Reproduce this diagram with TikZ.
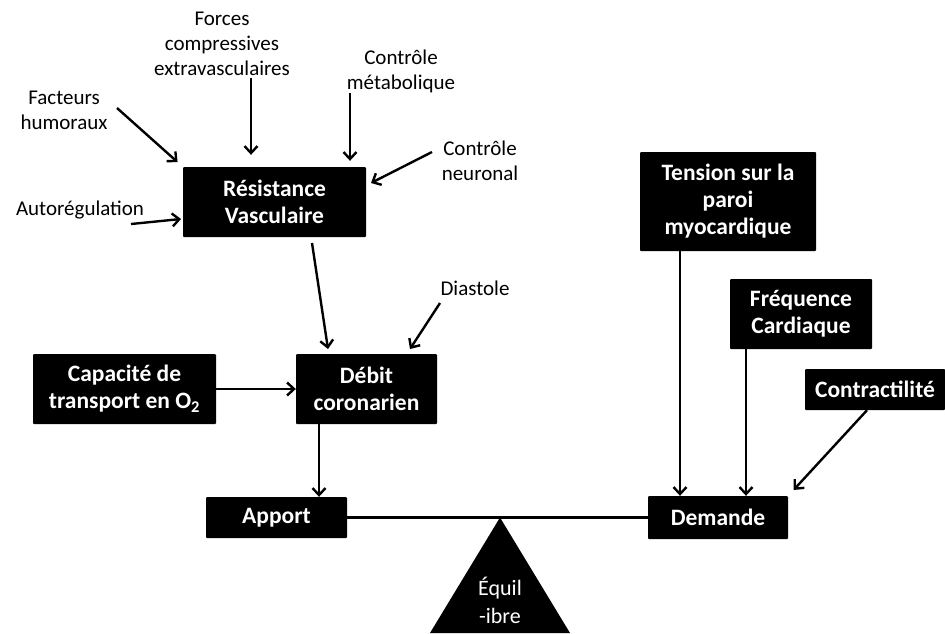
\documentclass[tikz,border=0pt]{standalone}
\usepackage{fontspec}
\setmainfont{Carlito}
\usepackage{tikz}
\usetikzlibrary{arrows.meta,calc}

\begin{document}
\begin{tikzpicture}[x=1pt,y=-1pt,
  every node/.style={align=center, inner sep=0pt},
  box/.style={fill=black, text=white, rounded corners=1pt, font=\fontsize{23.5}{27}\selectfont\bfseries},
  lbl/.style={font=\fontsize{21}{25}\selectfont},
  arr/.style={line width=2.4pt, -{Straight Barb[length=7pt,width=13pt,line width=2.4pt]}}]
\useasboundingbox (0,0) rectangle (945,633);

\node[box, minimum width=183pt, minimum height=70pt] (resist) at (274.5,202) {Résistance\\Vasculaire};
\node[box, minimum width=183pt, minimum height=70pt] (capac) at (124.5,389) {Capacité de\\transport en O\textsubscript{2}};
\node[box, minimum width=141pt, minimum height=70pt] (debit) at (366.5,389) {Débit\\coronarien};
\node[box, minimum width=141pt, minimum height=41pt] (apport) at (276.5,517.5) {Apport};
\node[box, minimum width=176pt, minimum height=99pt] (tension) at (728,201.5) {Tension sur la\\paroi\\myocardique};
\node[box, minimum width=142pt, minimum height=70pt] (freq) at (801,314) {Fréquence\\Cardiaque};
\node[box, minimum width=140pt, minimum height=41pt] (contr) at (875,389.5) {Contractilité};
\node[box, minimum width=140pt, minimum height=43pt] (demande) at (718,517.5) {Demande};

\node[lbl] (forces) at (222,44) {Forces\\compressives\\extravasculaires};
\node[lbl] (metab) at (401,71) {Contrôle\\métabolique};
\node[lbl] (facteurs) at (64,110) {Facteurs\\humoraux};
\node[lbl] (neuro) at (480,161) {Contrôle\\neuronal};
\node[lbl] (autoreg) at (80,210) {Autorégulation};
\node[lbl] (diastole) at (475,288) {Diastole};

\coordinate (f1) at (251,78);
\coordinate (m1) at (350,93);
\coordinate (h1) at (117,108);
\coordinate (n1) at (432,152);
\coordinate (n2) at (371,183);
\coordinate (a1) at (131,224);
\coordinate (a2) at (181,219);
\coordinate (r1) at (312,243);
\coordinate (r2) at (328,349);
\coordinate (s1) at (440,303);
\coordinate (s2) at (410,349);
\coordinate (d1) at (319,424);

\draw[arr, shorten >=12pt] (f1) -- (f1 |- resist.north);
\draw[arr, shorten >=6pt] (m1) -- (m1 |- resist.north);
\draw[arr, shorten >=7pt] (h1) -- (resist.north west);
\draw[arr] (n1) -- (n2);
\draw[arr] (a1) -- (a2);
\draw[arr] (r1) -- (r2);
\draw[arr] (s1) -- (s2);
\draw[arr] (capac.east) -- (debit.west);
\draw[arr] (d1) -- (d1 |- apport.north);

\draw[line width=2.6pt] (apport.east) -- (demande.west);
\fill (500,517.5) -- (430,633) -- (570,633) -- cycle;
\node[lbl, font=\fontsize{22}{28}\selectfont, text=white] (equil) at (500,600) {Équil\\-ibre};

\draw[arr] ($(tension.south)+(-48,0)$) -- ($(demande.north)+(-38,0)$);
\draw[arr] ($(freq.south)+(-55,0)$) -- ($(demande.north)+(28,0)$);
\draw[arr, shorten >=8pt] ($(contr.south)+(-8,0)$) -- (demande.north east);
\end{tikzpicture}
\end{document}
